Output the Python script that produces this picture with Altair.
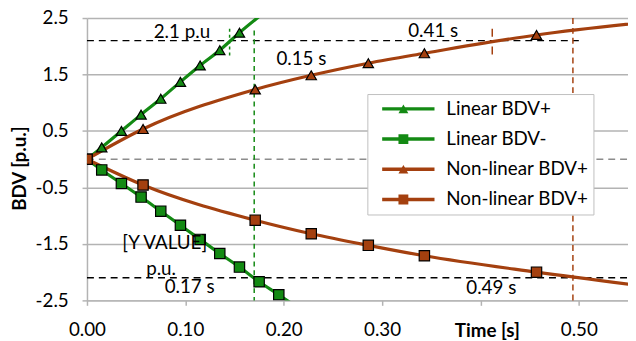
import altair as alt
import pandas as pd

# ---------------- data ----------------
series_names = ["Linear BDV+", "Linear BDV-", "Non-linear BDV+", "Non-linear BDV+"]
line_keys = ["L1", "L2", "L3", "L4"]
marker_keys = ["M1", "M2", "M3", "M4"]
series_colors = ["#138A13", "#138A13", "#A4400F", "#A4400F"]
series_shapes = ["triangle-up", "square", "triangle-up", "square"]

lin_pos_t = [0.0, 0.015, 0.035, 0.055, 0.075, 0.095, 0.115, 0.135, 0.155, 0.195]
lin_pos_v = [0.0, 0.21, 0.50, 0.79, 1.07, 1.37, 1.66, 1.93, 2.24, 2.80]

lin_neg_t = [0.0, 0.015, 0.035, 0.055, 0.075, 0.095, 0.115, 0.135, 0.155, 0.175, 0.195, 0.215]
lin_neg_v = [0.0, -0.19, -0.43, -0.67, -0.92, -1.17, -1.42, -1.67, -1.91, -2.17, -2.40, -2.64]

non_pos_t = [0.0, 0.057, 0.171, 0.228, 0.286, 0.343, 0.457, 0.60]
non_pos_v = [0.0, 0.535, 1.235, 1.486, 1.70, 1.876, 2.20, 2.48]

non_neg_t = [0.0, 0.057, 0.171, 0.228, 0.286, 0.343, 0.457, 0.60]
non_neg_v = [0.0, -0.457, -1.08, -1.32, -1.525, -1.71, -2.00, -2.32]

x_ticks = [0.0, 0.1, 0.2, 0.3, 0.4, 0.5]
y_ticks = [-2.5, -1.5, -0.5, 0.5, 1.5, 2.5]

# reference lines
ann_t = [0.0, 0.0, 0.0, 0.17, 0.145, 0.412, 0.494]
ann_t2 = [0.50, 0.55, 0.55, 0.17, 0.145, 0.412, 0.494]
ann_v = [2.1, 0.0, -2.1, 2.28, 2.31, 2.31, 2.5]
ann_v2 = [2.1, 0.0, -2.1, -2.5, 1.79, 1.79, -2.5]
ann_style = ["black", "gray", "black", "green", "greendot", "browndashdot", "browndash"]

# annotation texts
txt_label = ["2.1 p.u", "0.15 s", "0.41 s", "[Y VALUE]", "p.u.", "0.17 s", "0.49 s"]
txt_t = [0.0965, 0.218, 0.352, 0.079, 0.0753, 0.1044, 0.411]
txt_v = [2.255, 1.78, 2.27, -1.49, -1.94, -2.26, -2.29]

# ---------------- build tables ----------------
rows = []
for key, mkey, ts, vs in zip(line_keys, marker_keys,
                             [lin_pos_t, lin_neg_t, non_pos_t, non_neg_t],
                             [lin_pos_v, lin_neg_v, non_pos_v, non_neg_v]):
    for t, v in zip(ts, vs):
        rows.append({"t": t, "bdv": v, "series": key, "marker": mkey})
df = pd.DataFrame(rows)

ann = pd.DataFrame({"t": ann_t, "t2": ann_t2, "bdv": ann_v, "bdv2": ann_v2, "style": ann_style})
txt = pd.DataFrame({"t": txt_t, "bdv": txt_v, "label": txt_label})

FONT = "Lato"
FS = 19
GRID = "#b3b3b3"

names_js = "[" + ",".join("'" + n + "'" for n in series_names) + "]"
lkeys_js = "[" + ",".join("'" + k + "'" for k in line_keys) + "]"
mkeys_js = "[" + ",".join("'" + k + "'" for k in marker_keys) + "]"

x_axis = alt.Axis(
    values=x_ticks,
    labelExpr="abs(datum.value-0.4)<0.001 ? '' : format(datum.value, '.2f')",
    grid=False, domainColor=GRID, domainWidth=1.5, tickColor=GRID, tickSize=5, tickWidth=1.5,
    labelFont=FONT, labelFontSize=FS, labelColor="black", labelFlush=False, labelPadding=16,
    title="Time [s]", titleFont=FONT, titleFontSize=FS, titleFontWeight="bold", titleColor="black",
    titleX=405, titleY=31, titleAlign="center", titleBaseline="middle",
)
y_axis = alt.Axis(
    values=y_ticks,
    labelExpr="datum.value < 0 ? '-' + format(-datum.value, '.1f') : format(datum.value, '.1f')",
    grid=True, gridColor=GRID, gridWidth=1.5,
    domainColor=GRID, domainWidth=1.5, tickColor=GRID, tickSize=5, tickWidth=1.5,
    labelFont=FONT, labelFontSize=FS, labelColor="black", labelFlush=False, labelPadding=14,
    title="BDV [p.u.]", titleFont=FONT, titleFontSize=FS, titleFontWeight="bold", titleColor="black",
    titleX=-68, titleY=152, titleAngle=270, titleAlign="center", titleBaseline="middle",
)

xs = alt.Scale(domain=[0, 0.55], nice=False, zero=False)
ys = alt.Scale(domain=[-2.5, 2.5], nice=False, zero=False)
X = alt.X("t:Q", scale=xs, axis=x_axis)
Y = alt.Y("bdv:Q", scale=ys, axis=y_axis)

legend_lines = alt.Legend(
    orient="none", legendX=284, legendY=77, title=None,
    symbolType="stroke", symbolSize=2809, symbolStrokeWidth=3.5,
    clipHeight=20, rowPadding=10.6, padding=5, symbolOffset=8, labelOffset=10,
    labelFont=FONT, labelFontSize=FS, labelColor="black",
    labelExpr=names_js + "[indexof(" + lkeys_js + ", datum.value)] + '\u00a0\u00a0\u00a0\u00a0'",
    fillColor="white", strokeColor="#bfbfbf",
)
legend_marks = alt.Legend(
    orient="none", legendX=306, legendY=77, title=None,
    symbolSize=100, symbolStrokeColor="black", symbolStrokeWidth=1.2,
    clipHeight=20, rowPadding=10.6, padding=5,
    labelFont=FONT, labelFontSize=FS, labelOpacity=0,
    labelExpr=names_js + "[indexof(" + mkeys_js + ", datum.value)]",
)

# annotation rules
styles = {
    "black": dict(color="black", strokeDash=[7, 5], strokeWidth=1.5),
    "gray": dict(color="#8c8c8c", strokeDash=[7, 5], strokeWidth=1.5),
    "green": dict(color="#138A13", strokeDash=[5, 4], strokeWidth=1.5),
    "greendot": dict(color="#138A13", strokeDash=[3, 3], strokeWidth=1.5),
    "browndashdot": dict(color="#A4400F", strokeDash=[8, 4, 2, 4], strokeWidth=1.5),
    "browndash": dict(color="#A4400F", strokeDash=[6, 4], strokeWidth=1.5),
}
rule_layers = []
for s in dict.fromkeys(ann_style):
    rule_layers.append(
        alt.Chart(ann[ann["style"] == s]).mark_rule(**styles[s]).encode(
            x=X, x2="t2:Q", y=Y, y2="bdv2:Q",
        )
    )

lines = alt.Chart(df).mark_line(strokeWidth=3.2, interpolate="monotone", clip=True).encode(
    x=X, y=Y,
    color=alt.Color("series:N", scale=alt.Scale(domain=line_keys, range=series_colors), legend=legend_lines),
    order="t:Q",
)

points = alt.Chart(df).mark_point(
    filled=True, size=110, stroke="black", strokeWidth=1.2, opacity=1, clip=True
).encode(
    x=X, y=Y,
    fill=alt.Fill("marker:N", scale=alt.Scale(domain=marker_keys, range=series_colors), legend=legend_marks),
    shape=alt.Shape("marker:N", scale=alt.Scale(domain=marker_keys, range=series_shapes), legend=legend_marks),
)

texts = alt.Chart(txt).mark_text(font=FONT, fontSize=FS, color="black", align="center", baseline="middle").encode(
    x=X, y=Y, text="label:N",
)

chart = alt.layer(*rule_layers, lines, points, texts).properties(
    width=548, height=286,
    autosize=alt.AutoSizeParams(type="none"),
    padding={"left": 80, "top": 8, "right": 0, "bottom": 41},
    background="white",
).configure_view(strokeWidth=0)

chart.save("out.html", embed_options={"renderer": "svg", "actions": False})
